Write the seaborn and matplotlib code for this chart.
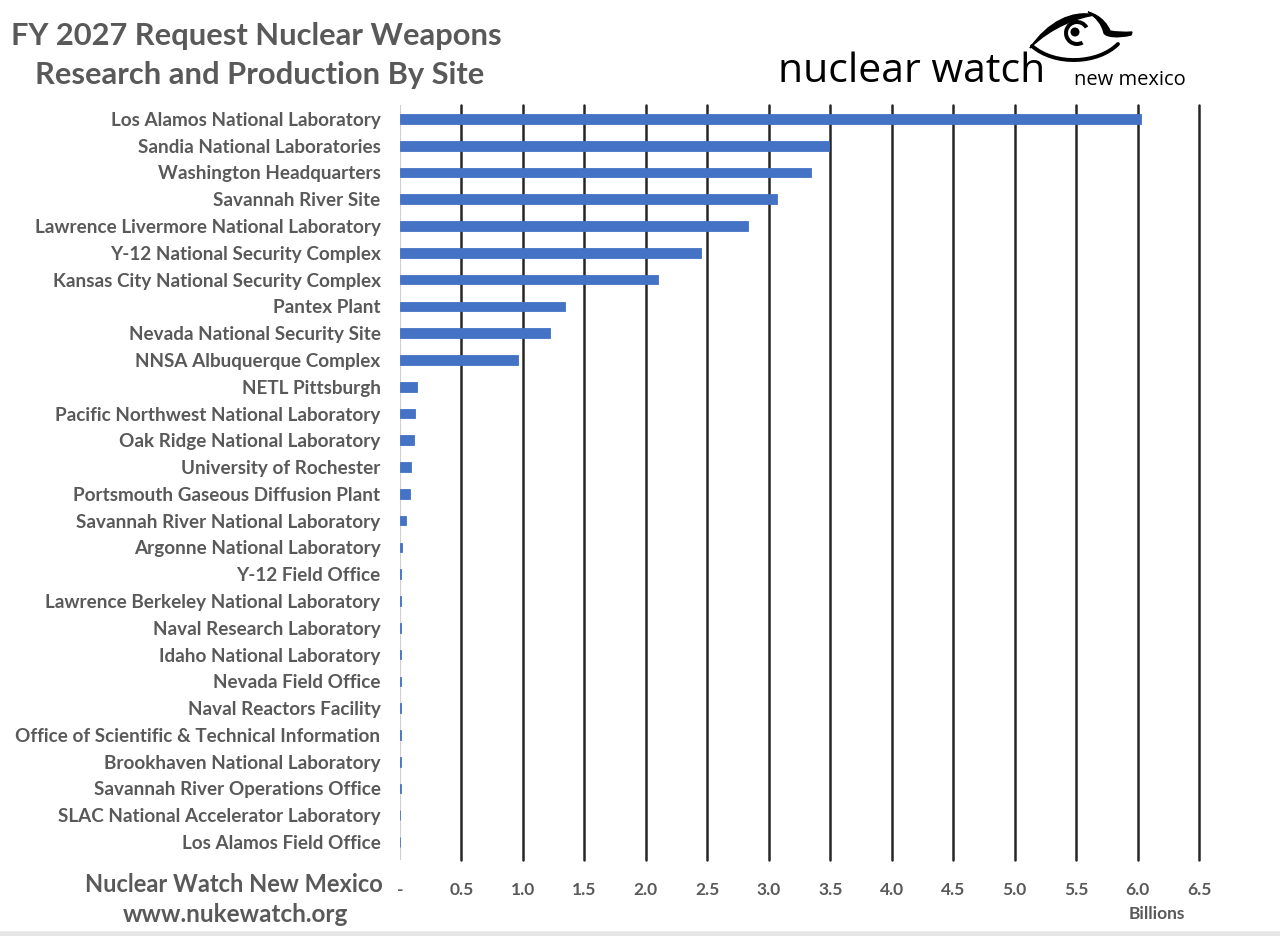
import matplotlib
matplotlib.use("Agg")
import matplotlib.pyplot as plt
import seaborn as sns
import pandas as pd
from matplotlib.path import Path
from matplotlib.patches import PathPatch, Circle, Wedge

# Data (billions of dollars)
sites = [
    "Los Alamos National Laboratory",
    "Sandia National Laboratories",
    "Washington Headquarters",
    "Savannah River Site",
    "Lawrence Livermore National Laboratory",
    "Y-12 National Security Complex",
    "Kansas City National Security Complex",
    "Pantex Plant",
    "Nevada National Security Site",
    "NNSA Albuquerque Complex",
    "NETL Pittsburgh",
    "Pacific Northwest National Laboratory",
    "Oak Ridge National Laboratory",
    "University of Rochester",
    "Portsmouth Gaseous Diffusion Plant",
    "Savannah River National Laboratory",
    "Argonne National Laboratory",
    "Y-12 Field Office",
    "Lawrence Berkeley National Laboratory",
    "Naval Research Laboratory",
    "Idaho National Laboratory",
    "Nevada Field Office",
    "Naval Reactors Facility",
    "Office of Scientific & Technical Information",
    "Brookhaven National Laboratory",
    "Savannah River Operations Office",
    "SLAC National Accelerator Laboratory",
    "Los Alamos Field Office",
]
funding = [
    6.03, 3.49, 3.34, 3.07, 2.83, 2.45, 2.10, 1.34, 1.22, 0.96,
    0.14, 0.125, 0.11, 0.092, 0.079, 0.046, 0.015, 0.012, 0.011, 0.010,
    0.009, 0.008, 0.007, 0.006, 0.005, 0.005, 0.004, 0.004,
]
x_ticks = [0, 0.5, 1.0, 1.5, 2.0, 2.5, 3.0, 3.5, 4.0, 4.5, 5.0, 5.5, 6.0, 6.5]
x_tick_labels = ["-", "0.5", "1.0", "1.5", "2.0", "2.5", "3.0", "3.5",
                 "4.0", "4.5", "5.0", "5.5", "6.0", "6.5"]

df = pd.DataFrame({"site": sites, "funding": funding})

sns.set_theme(style="white")
plt.rcParams["font.family"] = ["Lato", "DejaVu Sans"]

GRAY = "#595959"
BLUE = "#4472C4"

fig = plt.figure(figsize=(12.8, 9.36), dpi=100)
ax = fig.add_axes([400 / 1280, 1 - 860 / 936, 799 / 1280, 755 / 936])

sns.barplot(data=df, x="funding", y="site", color=BLUE, width=0.36,
            saturation=1, edgecolor=BLUE, linewidth=0.6, ax=ax, zorder=3)

ax.set_xlim(0, 6.5)
ax.set_ylim(27.67, -0.52)
ax.set_xticks(x_ticks)
ax.set_xticklabels(x_tick_labels)
ax.set_xlabel("")
ax.set_ylabel("")

for x in x_ticks[1:]:
    ax.axvline(x, color="#262626", lw=1.8, zorder=1, clip_on=False)
ax.axvline(0, color="#d0d0d0", lw=1.5, zorder=2)

for s in ax.spines.values():
    s.set_visible(False)

ax.tick_params(axis="y", length=0, pad=14, labelsize=13.6, labelcolor=GRAY)
ax.tick_params(axis="x", length=0, pad=16, labelsize=12.5, labelcolor=GRAY)
for lbl in ax.get_yticklabels() + ax.get_xticklabels():
    lbl.set_fontweight("bold")

# Overlay in pixel coordinates for titles, footer and logo
ov = fig.add_axes([0, 0, 1, 1], zorder=10)
ov.set_xlim(0, 1280)
ov.set_ylim(936, 0)
ov.axis("off")

ov.text(256, 36, "FY 2027 Request Nuclear Weapons", ha="center", va="center",
        fontsize=22.2, fontweight="bold", color=GRAY)
ov.text(260, 75, "Research and Production By Site", ha="center", va="center",
        fontsize=22.2, fontweight="bold", color=GRAY)

ov.text(383, 884, "Nuclear Watch New Mexico", ha="right", va="center",
        fontsize=17, fontweight="bold", color=GRAY)
ov.text(235, 915, "www.nukewatch.org", ha="center", va="center",
        fontsize=17.5, fontweight="bold", color=GRAY)
ov.text(1157, 914, "Billions", ha="center", va="center",
        fontsize=12.5, fontweight="bold", color=GRAY)

# logo text
ov.text(778, 72, "nuclear watch", ha="left", va="center", fontsize=29.5,
        color="black", family=["Open Sans", "DejaVu Sans"])
ov.text(1130, 80, "new mexico", ha="center", va="center", fontsize=14.5,
        color="black", family=["Open Sans", "DejaVu Sans"])

# eye: thick upper lid crescent
upper = Path([(1030, 48), (1048, 22), (1072, 10), (1095, 15),
              (1080, 17), (1052, 26), (1030, 48)],
             [Path.MOVETO, Path.CURVE4, Path.CURVE4, Path.CURVE4,
              Path.CURVE4, Path.CURVE4, Path.CURVE4])
ov.add_patch(PathPatch(upper, facecolor="black", edgecolor="black", lw=1))
# hook and lash on the right
lash = Path([(1088, 12), (1102, 16), (1108, 26), (1110, 31),
             (1120, 33), (1132, 32), (1131, 35),
             (1118, 38), (1106, 37), (1104, 33),
             (1102, 24), (1096, 17), (1088, 12)],
            [Path.MOVETO, Path.CURVE4, Path.CURVE4, Path.CURVE4,
             Path.CURVE3, Path.CURVE3, Path.LINETO,
             Path.CURVE4, Path.CURVE4, Path.CURVE4,
             Path.CURVE4, Path.CURVE4, Path.CURVE4])
ov.add_patch(PathPatch(lash, facecolor="black", edgecolor="black", lw=1))
# lower lid
lower = Path([(1032, 46), (1055, 66), (1098, 64), (1118, 44)],
             [Path.MOVETO, Path.CURVE4, Path.CURVE4, Path.CURVE4])
ov.add_patch(PathPatch(lower, facecolor="none", edgecolor="black", lw=2.8,
                       capstyle="round"))
# pupil: open ring plus dot
ov.add_patch(Wedge((1077, 33), 13, 60, 330, width=4, facecolor="black",
                   edgecolor="none"))
ov.add_patch(Circle((1075, 32), 4.5, facecolor="black", edgecolor="none"))

# light strip along the bottom edge
ov.axhline(934, color="#e6e6e6", lw=4)

fig.savefig("out.png", dpi=100, facecolor="white")
